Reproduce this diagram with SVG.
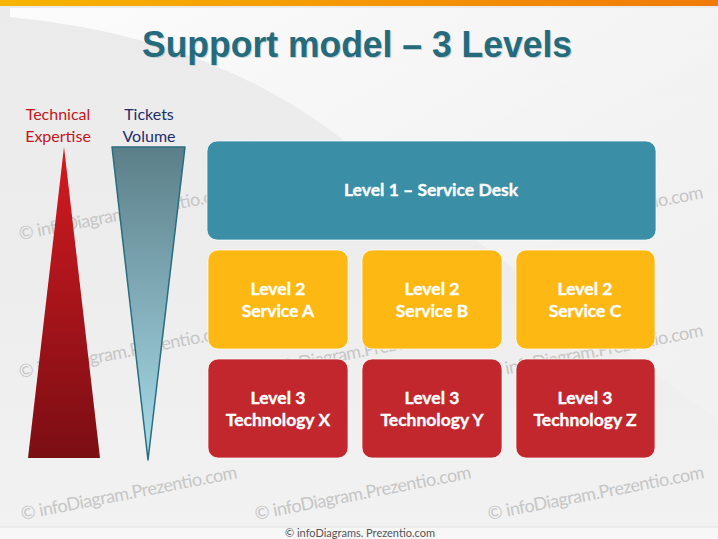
<svg xmlns="http://www.w3.org/2000/svg" width="718" height="539" viewBox="0 0 718 539">
<defs>
<linearGradient id="bar" x1="0" y1="0" x2="1" y2="0"><stop offset="0" stop-color="#F7B500"/><stop offset="1" stop-color="#F07A0A"/></linearGradient>
<linearGradient id="bg" x1="0" y1="0" x2="0" y2="1"><stop offset="0" stop-color="#EBEBEB"/><stop offset="0.5" stop-color="#EDEDED"/><stop offset="1" stop-color="#F2F2F2"/></linearGradient>
<linearGradient id="sw" x1="0" y1="0" x2="1" y2="1"><stop offset="0" stop-color="#FFFFFF" stop-opacity="0.85"/><stop offset="0.6" stop-color="#FFFFFF" stop-opacity="0.35"/><stop offset="1" stop-color="#FFFFFF" stop-opacity="0.1"/></linearGradient>
<linearGradient id="red" x1="0" y1="0" x2="0" y2="1"><stop offset="0" stop-color="#D41A22"/><stop offset="1" stop-color="#7A0E13"/></linearGradient>
<linearGradient id="blue" x1="0" y1="0" x2="0" y2="1"><stop offset="0" stop-color="#5B7F89"/><stop offset="1" stop-color="#A9DCEA"/></linearGradient>
<style>
.wm{font-family:Lato,"Open Sans",sans-serif;font-size:18px;fill:#C6C6C6}
.box{stroke:#FFFFFF;stroke-opacity:0.7;stroke-width:1}
.l1{fill:#3A8FA6}
.l2{fill:#FDB814}
.l3{fill:#C1272D}
.bt{font-family:Lato,"Open Sans",sans-serif;font-weight:bold;font-size:17.5px;fill:#FFFFFF;stroke:#FFFFFF;stroke-width:0.35;text-anchor:middle}
.lab{font-family:Lato,"Open Sans",sans-serif;font-size:16px;text-anchor:middle}
</style>
</defs>
<rect width="718" height="539" fill="url(#bg)"/>
<path d="M10,17 Q200,35 330,130 Q460,230 718,420 L718,8 L10,8 Z" fill="url(#sw)"/>
<rect x="0" y="0" width="718" height="6" fill="url(#bar)"/>
<rect x="0" y="527" width="718" height="12" fill="#F7F7F7"/>
<line x1="0" y1="527" x2="718" y2="527" stroke="#E2E2E2" stroke-width="1"/>

<g id="watermarks">
<text class="wm" x="20" y="240" textLength="220" transform="rotate(-11 20 240)">© infoDiagram.Prezentio.com</text>
<text class="wm" x="254" y="240" textLength="220" transform="rotate(-11 254 240)">© infoDiagram.Prezentio.com</text>
<text class="wm" x="488" y="240" textLength="220" transform="rotate(-11 488 240)">© infoDiagram.Prezentio.com</text>
<text class="wm" x="20" y="378" textLength="220" transform="rotate(-11 20 378)">© infoDiagram.Prezentio.com</text>
<text class="wm" x="254" y="378" textLength="220" transform="rotate(-11 254 378)">© infoDiagram.Prezentio.com</text>
<text class="wm" x="488" y="378" textLength="220" transform="rotate(-11 488 378)">© infoDiagram.Prezentio.com</text>
<text class="wm" x="22" y="520" textLength="220" transform="rotate(-11 22 520)">© infoDiagram.Prezentio.com</text>
<text class="wm" x="256" y="520" textLength="220" transform="rotate(-11 256 520)">© infoDiagram.Prezentio.com</text>
<text class="wm" x="489" y="520" textLength="220" transform="rotate(-11 489 520)">© infoDiagram.Prezentio.com</text>
</g>

<g id="title">
<text x="357" y="57" text-anchor="middle" textLength="430" lengthAdjust="spacingAndGlyphs" font-family="'Liberation Sans Narrow','Liberation Sans',sans-serif" font-weight="bold" font-size="36" fill="#C5D0D4" transform="translate(1,1)">Support model – 3 Levels</text>
<text x="357" y="57" text-anchor="middle" textLength="430" lengthAdjust="spacingAndGlyphs" font-family="'Liberation Sans Narrow','Liberation Sans',sans-serif" font-weight="bold" font-size="36" fill="#256B7C">Support model – 3 Levels</text>
</g>

<g id="expertise">
<text class="lab" x="58" y="120" fill="#C0171E">Technical</text>
<text class="lab" x="58" y="142" fill="#C0171E">Expertise</text>
<polygon points="64,147 100,458 28,458" fill="url(#red)"/>
</g>

<g id="volume">
<text class="lab" x="149" y="120" fill="#1F2D6B">Tickets</text>
<text class="lab" x="149" y="142" fill="#1F2D6B">Volume</text>
<polygon points="112,147 185,147 148,460" fill="url(#blue)" stroke="#2A6D7C" stroke-width="1.5" stroke-linejoin="round"/>
</g>

<g id="level1">
<rect class="box l1" x="207" y="141" width="449" height="99" rx="10"/>
<text class="bt" x="431" y="196">Level 1 – Service Desk</text>
</g>

<g id="level2a">
<rect class="box l2" x="208" y="250" width="140" height="99" rx="10"/>
<text class="bt" x="278" y="295">Level 2</text>
<text class="bt" x="278" y="317">Service A</text>
</g>
<g id="level2b">
<rect class="box l2" x="362" y="250" width="140" height="99" rx="10"/>
<text class="bt" x="432" y="295">Level 2</text>
<text class="bt" x="432" y="317">Service B</text>
</g>
<g id="level2c">
<rect class="box l2" x="516" y="250" width="139" height="99" rx="10"/>
<text class="bt" x="585" y="295">Level 2</text>
<text class="bt" x="585" y="317">Service C</text>
</g>

<g id="level3x">
<rect class="box l3" x="208" y="359" width="140" height="99" rx="10"/>
<text class="bt" x="278" y="404">Level 3</text>
<text class="bt" x="278" y="426">Technology X</text>
</g>
<g id="level3y">
<rect class="box l3" x="362" y="359" width="140" height="99" rx="10"/>
<text class="bt" x="432" y="404">Level 3</text>
<text class="bt" x="432" y="426">Technology Y</text>
</g>
<g id="level3z">
<rect class="box l3" x="516" y="359" width="139" height="99" rx="10"/>
<text class="bt" x="585" y="404">Level 3</text>
<text class="bt" x="585" y="426">Technology Z</text>
</g>

<g id="connectors"></g>

<text x="360" y="537" text-anchor="middle" font-family="Lato,'Open Sans',sans-serif" font-size="11" fill="#555555">© infoDiagrams. Prezentio.com</text>
</svg>
